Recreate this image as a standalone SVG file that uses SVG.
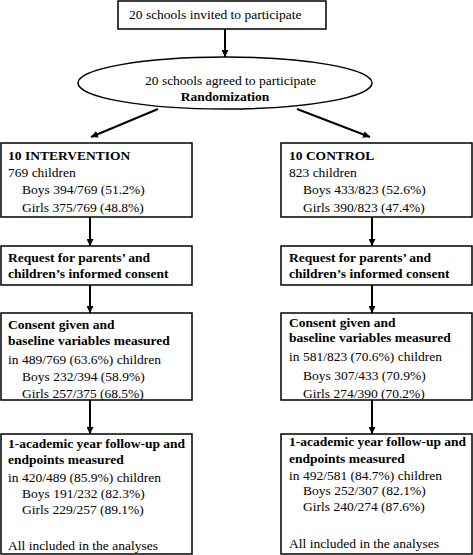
<svg xmlns="http://www.w3.org/2000/svg" width="473" height="555" viewBox="0 0 473 555">
<defs>
<marker id="ah" viewBox="0 0 10 10" refX="10" refY="5" markerWidth="7" markerHeight="7" markerUnits="userSpaceOnUse" orient="auto">
<path d="M0,0 L10,5 L0,10 Z" fill="#000"/>
</marker>
<style>
.box{fill:#fff;stroke:#000;stroke-width:1.5}
.t{font-family:"Liberation Serif","Times New Roman",serif;font-size:13.5px;fill:#000}
.b{font-weight:bold}
.c{stroke:#000;stroke-width:2;fill:none;marker-end:url(#ah)}
</style>
</defs>
<rect width="473" height="555" fill="#fff"/>
<g id="connectors">
<line class="c" x1="225" y1="29" x2="225" y2="57"/>
<line class="c" x1="158" y1="109" x2="91" y2="137"/>
<line class="c" x1="297" y1="109" x2="370" y2="137"/>
<line class="c" x1="90" y1="217" x2="90" y2="246"/>
<line class="c" x1="372" y1="217" x2="372" y2="246"/>
<line class="c" x1="90" y1="285" x2="90" y2="313"/>
<line class="c" x1="372" y1="285" x2="372" y2="313"/>
<line class="c" x1="90" y1="400" x2="90" y2="434"/>
<line class="c" x1="372" y1="400" x2="372" y2="434"/>
</g>
<g id="invited">
<rect class="box" x="118" y="1" width="208" height="28"/>
<text class="t" x="129" y="19">20 schools invited to participate</text>
</g>
<g id="agreed">
<ellipse class="box" cx="225" cy="83" rx="147" ry="26"/>
<text class="t" x="145" y="85">20 schools agreed to participate</text>
<text class="t b" x="225" y="101" text-anchor="middle">Randomization</text>
</g>
<g id="intervention">
<rect class="box" x="1" y="143" width="191" height="74"/>
<text class="t b" x="8" y="160">10 INTERVENTION</text>
<text class="t" x="8" y="177">769 children</text>
<text class="t" x="22" y="194">Boys 394/769 (51.2%)</text>
<text class="t" x="22" y="212">Girls 375/769 (48.8%)</text>
</g>
<g id="control">
<rect class="box" x="281" y="143" width="191" height="74"/>
<text class="t b" x="289" y="160">10 CONTROL</text>
<text class="t" x="289" y="177">823 children</text>
<text class="t" x="303" y="194">Boys 433/823 (52.6%)</text>
<text class="t" x="303" y="212">Girls 390/823 (47.4%)</text>
</g>
<g id="request-int">
<rect class="box" x="1" y="246" width="191" height="39"/>
<text class="t b" x="8" y="262">Request for parents’ and</text>
<text class="t b" x="8" y="278">children’s informed consent</text>
</g>
<g id="request-ctl">
<rect class="box" x="281" y="246" width="191" height="39"/>
<text class="t b" x="289" y="262">Request for parents’ and</text>
<text class="t b" x="289" y="278">children’s informed consent</text>
</g>
<g id="consent-int">
<rect class="box" x="1" y="313" width="191" height="87"/>
<text class="t b" x="8" y="329">Consent given and</text>
<text class="t b" x="8" y="345">baseline variables measured</text>
<text class="t" x="8" y="364">in 489/769 (63.6%) children</text>
<text class="t" x="22" y="381">Boys 232/394 (58.9%)</text>
<text class="t" x="22" y="398">Girls 257/375 (68.5%)</text>
</g>
<g id="consent-ctl">
<rect class="box" x="281" y="313" width="191" height="87"/>
<text class="t b" x="289" y="327">Consent given and</text>
<text class="t b" x="289" y="342">baseline variables measured</text>
<text class="t" x="289" y="361">in 581/823 (70.6%) children</text>
<text class="t" x="303" y="380">Boys 307/433 (70.9%)</text>
<text class="t" x="303" y="398">Girls 274/390 (70.2%)</text>
</g>
<g id="followup-int">
<rect class="box" x="1" y="434" width="191" height="120"/>
<text class="t b" x="8" y="448">1-academic year follow-up and</text>
<text class="t b" x="8" y="464">endpoints measured</text>
<text class="t" x="8" y="482">in 420/489 (85.9%) children</text>
<text class="t" x="22" y="498">Boys 191/232 (82.3%)</text>
<text class="t" x="22" y="514">Girls 229/257 (89.1%)</text>
<text class="t" x="8" y="550">All included in the analyses</text>
</g>
<g id="followup-ctl">
<rect class="box" x="281" y="434" width="191" height="120"/>
<text class="t b" x="289" y="446">1-academic year follow-up and</text>
<text class="t b" x="289" y="463">endpoints measured</text>
<text class="t" x="289" y="480">in 492/581 (84.7%) children</text>
<text class="t" x="303" y="495">Boys 252/307 (82.1%)</text>
<text class="t" x="303" y="511">Girls 240/274 (87.6%)</text>
<text class="t" x="289" y="548">All included in the analyses</text>
</g>
</svg>
